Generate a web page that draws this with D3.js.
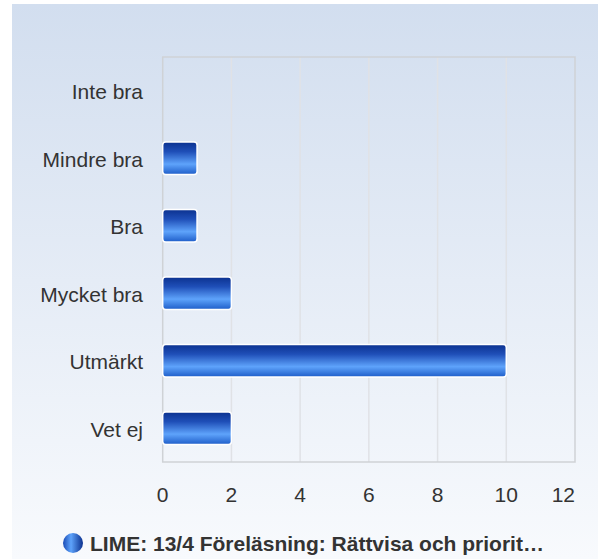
<!doctype html>
<html lang="sv">
<head>
<meta charset="UTF-8">
<title>LIME</title>
<style>
    body { margin: 0; background: #fff; }
    svg text { font-family: "Liberation Sans", Arial, sans-serif; }
</style>
</head>
<body>
<svg id="chart" width="598" height="559"></svg>

<script src="https://cdn.jsdelivr.net/npm/d3@7"></script>
<script>
    var categories = ['Inte bra', 'Mindre bra', 'Bra', 'Mycket bra', 'Utmärkt', 'Vet ej']
    var values = [0, 1, 1, 2, 10, 2]
    var xTicks = [0, 2, 4, 6, 8, 10, 12]
    var seriesName = 'LIME: 13/4 Föreläsning: Rättvisa och priorit…'

    var svg = d3.select('#chart')
    var plotLeft = 162.7, plotRight = 575, plotTop = 57, plotBottom = 462

    var defs = svg.append('defs')
    var bg = defs.append('linearGradient').attr('id', 'bg').attr('x1', 0).attr('y1', 0).attr('x2', 0).attr('y2', 1)
    bg.append('stop').attr('offset', '0%').attr('stop-color', '#d2deef')
    bg.append('stop').attr('offset', '100%').attr('stop-color', '#f8fafd')

    var bar = defs.append('linearGradient').attr('id', 'bar').attr('x1', 0).attr('y1', 0).attr('x2', 0).attr('y2', 1)
    bar.append('stop').attr('offset', '0%').attr('stop-color', '#0b318f')
    bar.append('stop').attr('offset', '30%').attr('stop-color', '#1f4fb8')
    bar.append('stop').attr('offset', '68%').attr('stop-color', '#5ea3fb')
    bar.append('stop').attr('offset', '100%').attr('stop-color', '#1d5cc8')

    var dot = defs.append('linearGradient').attr('id', 'dot').attr('x1', 0).attr('y1', 0).attr('x2', 1).attr('y2', 0)
    dot.append('stop').attr('offset', '0%').attr('stop-color', '#1a4bb5')
    dot.append('stop').attr('offset', '40%').attr('stop-color', '#5ea3fb')
    dot.append('stop').attr('offset', '100%').attr('stop-color', '#0b318f')

    svg.append('rect')
        .attr('x', 12).attr('y', 4).attr('width', 586).attr('height', 555)
        .attr('fill', 'url(#bg)')

    var x = d3.scaleLinear().domain([0, 12]).range([plotLeft, plotRight])
    var y = d3.scaleBand().domain(categories).range([plotTop, plotBottom]).paddingInner(0.516).paddingOuter(0.258)

    // grid + frame
    svg.selectAll('.grid').data(xTicks.slice(1, -1)).enter().append('line')
        .attr('x1', function(d) { return x(d) }).attr('x2', function(d) { return x(d) })
        .attr('y1', plotTop).attr('y2', plotBottom)
        .attr('stroke', '#e0e2e6').attr('stroke-width', 1.5)

    svg.append('rect')
        .attr('x', plotLeft).attr('y', plotTop).attr('width', plotRight - plotLeft).attr('height', plotBottom - plotTop)
        .attr('fill', 'none').attr('stroke', '#cfd2d6').attr('stroke-width', 1.5)

    // x axis labels (last one kept inside the plot edge)
    svg.selectAll('.xt').data(xTicks).enter().append('text')
        .attr('x', function(d, i) { return i === xTicks.length - 1 ? plotRight : x(d) })
        .attr('y', 502)
        .attr('text-anchor', function(d, i) { return i === xTicks.length - 1 ? 'end' : 'middle' })
        .attr('font-size', 21).attr('fill', '#333')
        .text(function(d) { return d })

    // category labels
    svg.selectAll('.yt').data(categories).enter().append('text')
        .attr('x', 143).attr('y', function(d) { return y(d) + y.bandwidth() / 2 + 8.5 })
        .attr('text-anchor', 'end').attr('font-size', 21).attr('fill', '#333')
        .text(function(d) { return d })

    // bars
    var rows = categories.map(function(c, i) { return { cat: c, v: values[i] } })
    svg.selectAll('.bar').data(rows.filter(function(d) { return d.v > 0 })).enter().append('rect')
        .attr('x', x(0))
        .attr('y', function(d) { return y(d.cat) })
        .attr('width', function(d) { return x(d.v) - x(0) })
        .attr('height', y.bandwidth())
        .attr('rx', 3)
        .attr('fill', 'url(#bar)').attr('stroke', '#fff').attr('stroke-width', 1.5)

    // legend
    svg.append('circle').attr('cx', 73).attr('cy', 543).attr('r', 10).attr('fill', 'url(#dot)')
    svg.append('text')
        .attr('x', 90).attr('y', 551)
        .attr('font-size', 21).attr('font-weight', 'bold').attr('fill', '#333')
        .text(seriesName)
</script>
</body>
</html>
